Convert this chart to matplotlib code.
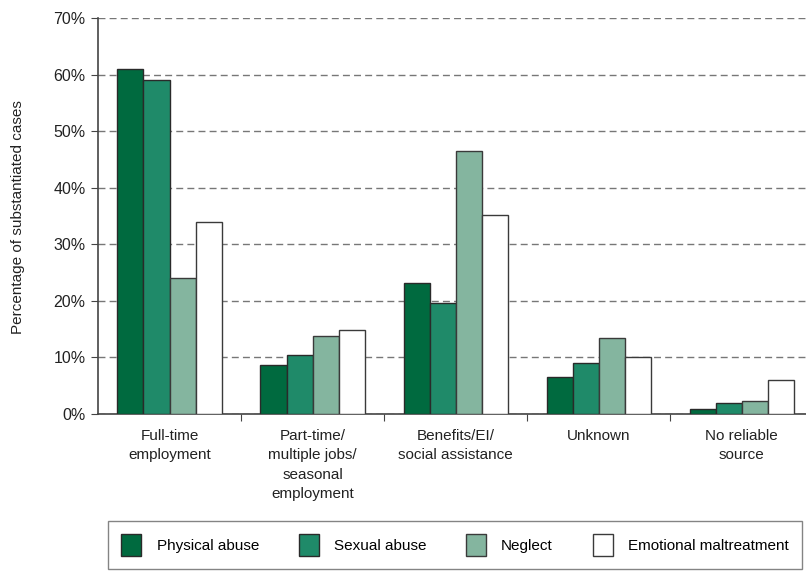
import matplotlib
matplotlib.use("Agg")
import matplotlib.pyplot as plt
import numpy as np
from matplotlib import font_manager

names = {f.name for f in font_manager.fontManager.ttflist}
fam = "Liberation Sans Narrow" if "Liberation Sans Narrow" in names else "Liberation Sans"
plt.rcParams['font.family'] = [fam, 'DejaVu Sans']

categories = ["Full-time\nemployment", "Part-time/\nmultiple jobs/\nseasonal\nemployment",
              "Benefits/EI/\nsocial assistance", "Unknown", "No reliable\nsource"]
series_names = ["Physical abuse", "Sexual abuse", "Neglect", "Emotional maltreatment"]
physical = [61.0, 8.7, 23.2, 6.5, 0.9]
sexual = [59.0, 10.4, 19.6, 9.0, 1.9]
neglect = [24.0, 13.8, 46.5, 13.4, 2.3]
emotional = [33.9, 14.8, 35.2, 10.1, 6.0]
yticks = [0, 10, 20, 30, 40, 50, 60, 70]

colors = ["#006a3f", "#1f8a69", "#84b59f", "#ffffff"]
edges = ["#2a2a2a", "#2a2a2a", "#3a3a3a", "#3a3a3a"]

fig = plt.figure(figsize=(8.06, 5.74), dpi=100)
ax = fig.add_axes([98/806, (574-414)/574, 1 - 98/806, (414-18)/574])

x = np.arange(len(categories))
w = 0.182
allv = [physical, sexual, neglect, emotional]
for i, (vals, c, ec, nm) in enumerate(zip(allv, colors, edges, series_names)):
    ax.bar(x + (i - 1.5) * w, vals, w, color=c, edgecolor=ec, linewidth=1.0, label=nm, zorder=3)

ax.set_ylim(0, 70)
ax.set_xlim(-0.5, 4.45)
ax.set_yticks(yticks)
ax.set_yticklabels([f"{t}%" for t in yticks], fontsize=11.5, color="#222222")
ax.yaxis.grid(True, linestyle=(0, (5, 3)), color="#777777", linewidth=1.0, zorder=0)
ax.set_axisbelow(True)

ax.set_xticks([0.5, 1.5, 2.5, 3.5])
ax.set_xticklabels([])
ax.tick_params(axis='x', direction='out', length=5, color="#444444")
ax.tick_params(axis='y', direction='out', length=5, color="#444444", pad=4)
for xi, lab in zip(x, categories):
    ax.text(xi, -2.6, lab, ha='center', va='top', fontsize=11, color="#222222", linespacing=1.5)

for s in ["top", "right"]:
    ax.spines[s].set_visible(False)
for s in ["left", "bottom"]:
    ax.spines[s].set_color("#444444")
    ax.spines[s].set_linewidth(1.2)

fig.text(18/806, 1 - 217/574, "Percentage of substantiated cases", rotation=90,
         ha='center', va='center', fontsize=11, color="#222222")

handles, labels = ax.get_legend_handles_labels()
leg = fig.legend(handles, labels, loc='center', bbox_to_anchor=(455/806, 1 - 545/574),
                 ncol=4, frameon=True, fancybox=False, fontsize=11, handlelength=1.3,
                 handleheight=1.9, columnspacing=2.6, handletextpad=1.0, borderpad=0.85,
                 edgecolor="#666666")
leg.get_frame().set_linewidth(1.0)

fig.savefig("out.png", dpi=100)
